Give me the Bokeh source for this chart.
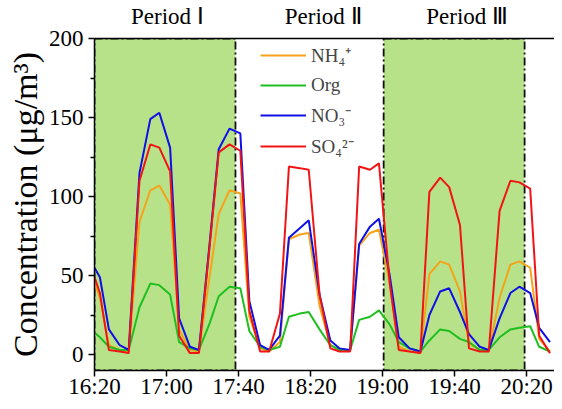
from bokeh.plotting import figure
from bokeh.models import Range1d, FixedTicker, Legend, LegendItem, BoxAnnotation, LinearAxis
from bokeh.embed import file_html
from bokeh.resources import INLINE

# minutes after 16:20
t_min = [0, 3, 8, 14, 19, 25, 31, 36, 42, 47, 53, 58, 64, 69, 75, 81, 86, 92, 97, 103,
         108, 114, 119, 125, 131, 136, 142, 147, 153, 158, 164, 169, 175, 181, 186, 192,
         197, 203, 208, 214, 219, 225, 231, 236, 242, 247, 253]
nh4 = [46, 36, 6, 3, 2, 84, 104, 107, 95, 16, 3, 2, 50, 89, 104, 102, 24, 4, 2, 8,
       73, 76, 77, 31, 6, 3, 3, 69, 77, 79, 45, 5, 2, 1, 51, 59, 57, 40, 7, 3, 2,
       36, 57, 59, 55, 10, 2]
org = [14, 11, 5, 3, 3, 30, 45, 44, 38, 8, 4, 3, 20, 37, 43, 42, 15, 5, 3, 5,
       24, 26, 27, 16, 6, 3, 3, 22, 24, 28, 19, 8, 4, 2, 9, 16, 15, 10, 8, 3, 3,
       11, 16, 17, 18, 5, 2]
no3 = [55, 49, 16, 6, 3, 115, 149, 153, 131, 23, 5, 3, 71, 130, 143, 140, 34, 6, 3, 12,
       74, 80, 85, 38, 9, 4, 3, 70, 81, 86, 50, 11, 4, 2, 25, 40, 42, 27, 13, 5, 3,
       23, 39, 43, 39, 17, 8]
so4 = [49, 39, 3, 2, 1, 110, 133, 131, 116, 12, 1, 1, 69, 128, 133, 129, 28, 2, 2, 26,
       119, 118, 117, 38, 4, 2, 2, 119, 117, 121, 45, 3, 2, 1, 103, 112, 106, 82, 4, 2, 2,
       91, 110, 109, 105, 12, 1]

series_names = ["NH\u2084\u207a", "Org", "NO\u2083\u207b", "SO\u2084\u00b2\u207b"]
series_colors = ["#f5a31a", "#1fbf1f", "#1010e6", "#f01414"]

tick_pos = [0, 40, 80, 120, 160, 200, 240]
tick_labels = ["16:20", "17:00", "17:40", "18:20", "19:00", "19:40", "20:20"]
y_ticks = [0, 50, 100, 150, 200]
y_minor = [25, 75, 125, 175]

periods = [(0, 78.3), (160.6, 238.9)]
period_labels = ["Period \u2160", "Period \u2161", "Period \u2162"]
period_label_x = [40.5, 127, 207]

FONT = "Liberation Serif"

p = figure(width=554, height=401, output_backend="svg", toolbar_location=None,
           x_range=Range1d(0, 255.5), y_range=Range1d(-10, 200),
           min_border_left=94, min_border_right=0, min_border_top=0, min_border_bottom=0)
p.grid.visible = False
p.outline_line_color = None
p.background_fill_color = "white"

for (a, b) in periods:
    p.add_layout(BoxAnnotation(left=a, right=b, bottom=-10, top=200,
                               fill_color="#b8e28a", fill_alpha=1.0,
                               line_color="#111111", line_alpha=1.0, line_width=1.8,
                               line_dash="8 3 2 3", level="underlay"))

renderers = []
for ys, c in zip([nh4, org, no3, so4], series_colors):
    r = p.line(t_min, ys, line_color=c, line_width=2)
    renderers.append(r)

legend = Legend(items=[LegendItem(label=n, renderers=[r]) for n, r in zip(series_names, renderers)],
                location=(166, 211), padding=0, margin=0, spacing=5,
                glyph_width=46, glyph_height=24, label_height=24, label_standoff=5,
                label_text_font=FONT, label_text_font_size="19px",
                border_line_alpha=0, background_fill_alpha=0)
p.add_layout(legend)

bottom_axis = p.below[0]
left_axis = p.left[0]

# top axis: its line is the frame's top edge, its labels name the periods
top_axis = LinearAxis(ticker=FixedTicker(ticks=period_label_x),
                      major_label_overrides={xx: txt for xx, txt in zip(period_label_x, period_labels)})
top_axis.axis_line_width = 1.5
top_axis.axis_line_color = "black"
top_axis.major_tick_line_color = None
top_axis.minor_tick_line_color = None
top_axis.major_tick_out = 0
top_axis.major_tick_in = 0
top_axis.major_label_text_font = FONT
top_axis.major_label_text_font_size = "23px"
top_axis.major_label_text_color = "black"
top_axis.major_label_standoff = 10
p.add_layout(top_axis, "above")

bottom_axis.ticker = FixedTicker(ticks=tick_pos)
bottom_axis.major_label_overrides = {tp: lb for tp, lb in zip(tick_pos, tick_labels)}
left_axis.ticker = FixedTicker(ticks=y_ticks, minor_ticks=y_minor)
for ax in (bottom_axis, left_axis):
    ax.axis_line_width = 1.5
    ax.major_tick_line_width = 1.5
    ax.minor_tick_line_width = 1.5
    ax.major_tick_out = 6
    ax.major_tick_in = 0
    ax.minor_tick_out = 4
    ax.minor_tick_in = 0
    ax.major_label_text_font = FONT
    ax.major_label_text_font_size = "23px"
    ax.major_label_text_color = "black"
    ax.major_label_standoff = 5
bottom_axis.major_label_standoff = -3
left_axis.axis_label = "Concentration (\u03bcg/m\u00b3)"
left_axis.axis_label_text_font = FONT
left_axis.axis_label_text_font_size = "34px"
left_axis.axis_label_text_font_style = "normal"
left_axis.axis_label_text_color = "black"
left_axis.axis_label_standoff = 2

open("out.html", "w").write(file_html(p, INLINE))
